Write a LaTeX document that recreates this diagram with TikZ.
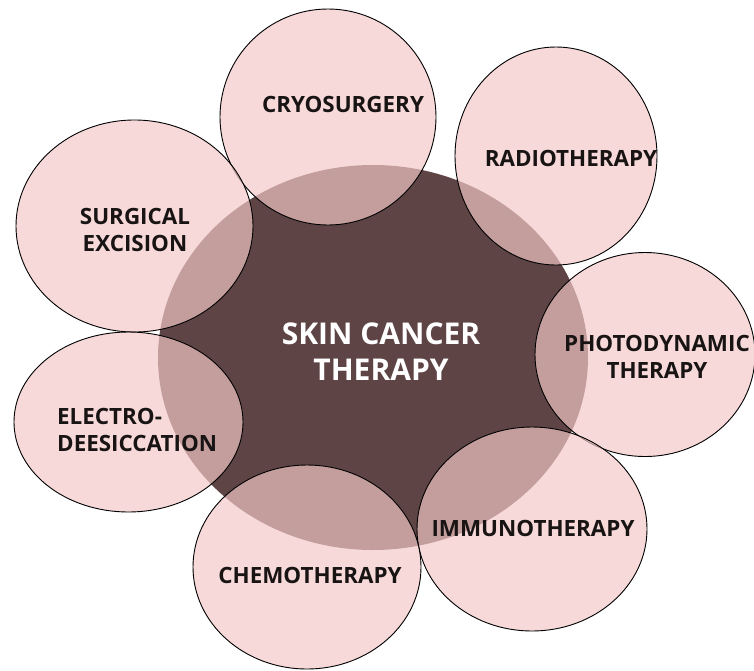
\documentclass[tikz,border=0pt]{standalone}
\usepackage{fontspec}
\setmainfont{Open Sans}
\definecolor{darkc}{RGB}{95,68,69}
\definecolor{pinkc}{RGB}{244,200,200}
\definecolor{txtc}{RGB}{25,20,20}
\tikzset{
  petal/.style={draw=black, line width=0.9pt, fill=pinkc, fill opacity=0.68},
  lbl/.style={font=\bfseries\fontsize{22.4}{27}\selectfont, text=txtc, align=center, inner sep=0pt},
  hub/.style={fill=darkc, draw=none}
}
\begin{document}
\begin{tikzpicture}[x=1pt,y=-1pt]
\useasboundingbox (0,0) rectangle (754,670);
\fill[white] (0,0) rectangle (754,670);
% central hub
\path[hub] (373,357.5) ellipse [x radius=215, y radius=192.5];
% petals
\path[petal] (328,117) ellipse [x radius=108, y radius=108];
\path[petal] (556,156) ellipse [x radius=101, y radius=109];
\path[petal] (134.5,226) ellipse [x radius=118.5, y radius=106];
\path[petal] (645,354.5) ellipse [x radius=110, y radius=102];
\path[petal] (128.5,422) ellipse [x radius=114.5, y radius=90];
\path[petal] (532,529) ellipse [x radius=115, y radius=102];
\path[petal] (307,567) ellipse [x radius=114, y radius=102];
% labels
\node[lbl, font=\bfseries\fontsize{30}{36}\selectfont, text=white] (hubt) at (381,352) {SKIN CANCER\\THERAPY};
\node[lbl] (cryo) at (343,104) {CRYOSURGERY};
\node[lbl] (radio) at (571,158) {RADIOTHERAPY};
\node[lbl] (surg) at (135,230) {SURGICAL\\EXCISION};
\node[lbl] (photo) at (657,357) {PHOTODYNAMIC\\THERAPY};
\node[lbl, align=left, anchor=west] (electro) at (57,430) {ELECTRO-\\DEESICCATION};
\node[lbl] (immuno) at (533,528) {IMMUNOTHERAPY};
\node[lbl] (chemo) at (310,575) {CHEMOTHERAPY};
\end{tikzpicture}
\end{document}
